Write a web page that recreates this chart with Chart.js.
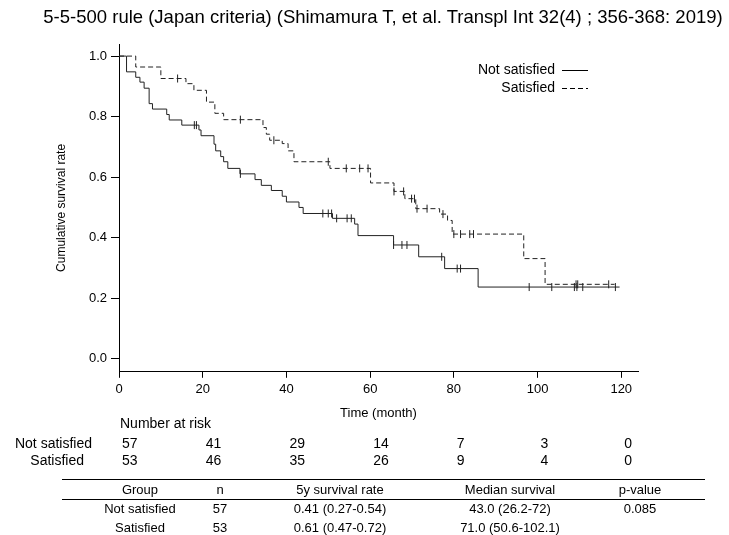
<!DOCTYPE html>
<html><head><meta charset="utf-8">
<script src="https://cdn.jsdelivr.net/npm/chart.js@4/dist/chart.umd.min.js"></script>
<style>
body{margin:0;width:729px;height:535px;overflow:hidden;background:#fff;font-family:"Liberation Sans",Arial,sans-serif;}
#wrap{position:absolute;left:0;top:0;width:729px;height:535px;}
.t{position:absolute;font-size:13px;color:#000;white-space:nowrap;}
.hl{position:absolute;left:62px;width:643px;height:1px;background:#000;}
</style></head><body>
<div id="wrap"><canvas id="c" width="729" height="535"></canvas></div>
<div id="ov"></div>
<script>
// Kaplan-Meier steps: [time, survival]
const notSatTimes = [0,1.8,4,5,6,7.2,8,11.4,12,15,19.1,19.6,22.7,23.1,24.3,25,26,28.9,32.5,34,36.4,39,40,43,44,51,56.3,57.1,65.6,71.6,77.8,85.8,119.6];
const notSatSurv  = [1,0.948,0.93,0.914,0.894,0.843,0.825,0.807,0.789,0.772,0.756,0.737,0.709,0.687,0.668,0.651,0.629,0.611,0.592,0.573,0.556,0.537,0.518,0.50,0.48,0.464,0.445,0.407,0.376,0.337,0.298,0.237,0.237];
const notSatCensor = [18,18.5,29,48.7,50,50.8,52,54.5,55.5,65.6,67.6,68.8,77.1,80.8,81.6,98,103.4,108.8,109.4,110.8,118.6];
const satTimes = [0,4,10,16,17.9,20.9,22.9,25,34.4,35.2,36,39,40.4,41.8,50.4,60.1,65.7,68.3,70.9,76.6,78.5,79.6,96.7,101.8,118.4];
const satSurv  = [1,0.964,0.926,0.909,0.887,0.848,0.811,0.79,0.764,0.742,0.722,0.711,0.687,0.651,0.629,0.581,0.553,0.529,0.496,0.478,0.457,0.412,0.331,0.246,0.246];
const satCensor = [14,29,37,50,54.3,57.5,59.5,65.7,68,69.9,70.6,71.2,73.6,77.4,80,81.6,83.8,84.7,109.2,109.6,117];
const xTicks = [0,20,40,60,80,100,120];
const yTicks = [0,0.2,0.4,0.6,0.8,1.0];
const riskNot = [57,41,29,14,7,3,0];
const riskSat = [53,46,35,26,9,4,0];
const tblHeader = ["Group","n","5y survival rate","Median survival","p-value"];
const tblRows = [["Not satisfied","57","0.41 (0.27-0.54)","43.0 (26.2-72)","0.085"],["Satisfied","53","0.61 (0.47-0.72)","71.0 (50.6-102.1)",""]];

function steps(ts, ss){return ts.map((t,i)=>({x:t,y:ss[i]}));}
function survAt(ts, ss, t){let v=ss[0];for(let i=0;i<ts.length;i++){if(ts[i]<=t)v=ss[i];}return v;}
function cens(ts,ss,cs){return cs.map(t=>({x:t,y:survAt(ts,ss,t)}));}

const legendPlugin={id:'lg',afterDraw(ch){
  const c=ch.ctx;
  c.save();c.strokeStyle='#000';c.lineWidth=1;
  c.font='14px "Liberation Sans", Arial';c.fillStyle='#000';c.textAlign='right';c.textBaseline='middle';
  c.fillText('Not satisfied',555,70);c.fillText('Satisfied',555,88);
  c.beginPath();c.moveTo(562,70.5);c.lineTo(588,70.5);c.stroke();
  c.setLineDash([5,3]);c.beginPath();c.moveTo(562,88.5);c.lineTo(588,88.5);c.stroke();
  c.restore();
}};
const F={size:13,family:'"Liberation Sans", Arial'};

new Chart(document.getElementById('c'),{
  data:{datasets:[
    {type:'line',data:steps(notSatTimes,notSatSurv),stepped:'before',borderColor:'#222',borderWidth:1,pointRadius:0,fill:false},
    {type:'line',data:steps(satTimes,satSurv),stepped:'before',borderColor:'#222',borderWidth:1,borderDash:[5,3],pointRadius:0,fill:false},
    {type:'scatter',data:cens(notSatTimes,notSatSurv,notSatCensor),pointStyle:'line',rotation:90,pointRadius:4,borderColor:'#222',borderWidth:1},
    {type:'scatter',data:cens(satTimes,satSurv,satCensor),pointStyle:'line',rotation:90,pointRadius:4,borderColor:'#222',borderWidth:1}
  ]},
  options:{responsive:false,animation:false,events:[],
    layout:{padding:{top:44,right:91,left:50,bottom:114}},
    plugins:{legend:{display:false},tooltip:{enabled:false},title:{display:false}},
    scales:{
      x:{type:'linear',min:0,max:124,
        afterBuildTicks:s=>{s.ticks=xTicks.map(v=>({value:v}));},
        grid:{display:true,drawOnChartArea:false,tickLength:6,color:'#000'},border:{display:true,color:'#000'},
        ticks:{color:'#000',font:F,padding:4,maxRotation:0},
        title:{display:true,text:'Time (month)',color:'#000',font:F,padding:{top:4,bottom:0}},
        position:'bottom'},
      y:{type:'linear',min:-0.043,max:1.04,
        afterBuildTicks:s=>{s.ticks=yTicks.map(v=>({value:v}));},
        afterFit:s=>{s.width=69;},
        grid:{display:true,drawOnChartArea:false,tickLength:8,color:'#000'},border:{display:true,color:'#000'},
        ticks:{color:'#000',font:F,padding:4,callback:v=>v.toFixed(1)},
        title:{display:true,text:'Cumulative survival rate',color:'#000',font:{size:12,family:'"Liberation Sans", Arial'},padding:{bottom:4}}}
    }},
  plugins:[legendPlugin]
});

const ov=document.getElementById('ov');
function txt(s,l,t,align,size){const d=document.createElement('div');d.className='t';d.textContent=s;d.style.top=t+'px';
  if(size)d.style.fontSize=size+'px';
  if(align==='r'){d.style.right=(729-l)+'px';}else if(align==='c'){d.style.left=(l-350)+'px';d.style.width='700px';d.style.textAlign='center';}else d.style.left=l+'px';
  ov.appendChild(d);}
txt('5-5-500 rule (Japan criteria) (Shimamura T, et al. Transpl Int 32(4) ; 356-368: 2019)',383,6,'c',18.5);
txt('Number at risk',120,415,'l',14);
const px=v=>119+v*(519/124);
txt('Not satisfied',92,435,'r',14);txt('Satisfied',84,452,'r',14);
xTicks.forEach((v,i)=>{txt(String(riskNot[i]),px(v)+3,435,'l',14);txt(String(riskSat[i]),px(v)+3,452,'l',14);});
[479,499].forEach(t=>{const d=document.createElement('div');d.className='hl';d.style.top=t+'px';ov.appendChild(d);});
const cols=[140,220,340,510,640];
tblHeader.forEach((h,i)=>txt(h,cols[i],482,'c'));
tblRows.forEach((r,j)=>r.forEach((s,i)=>txt(s,cols[i],501+j*19,'c')));
</script>
</body></html>
